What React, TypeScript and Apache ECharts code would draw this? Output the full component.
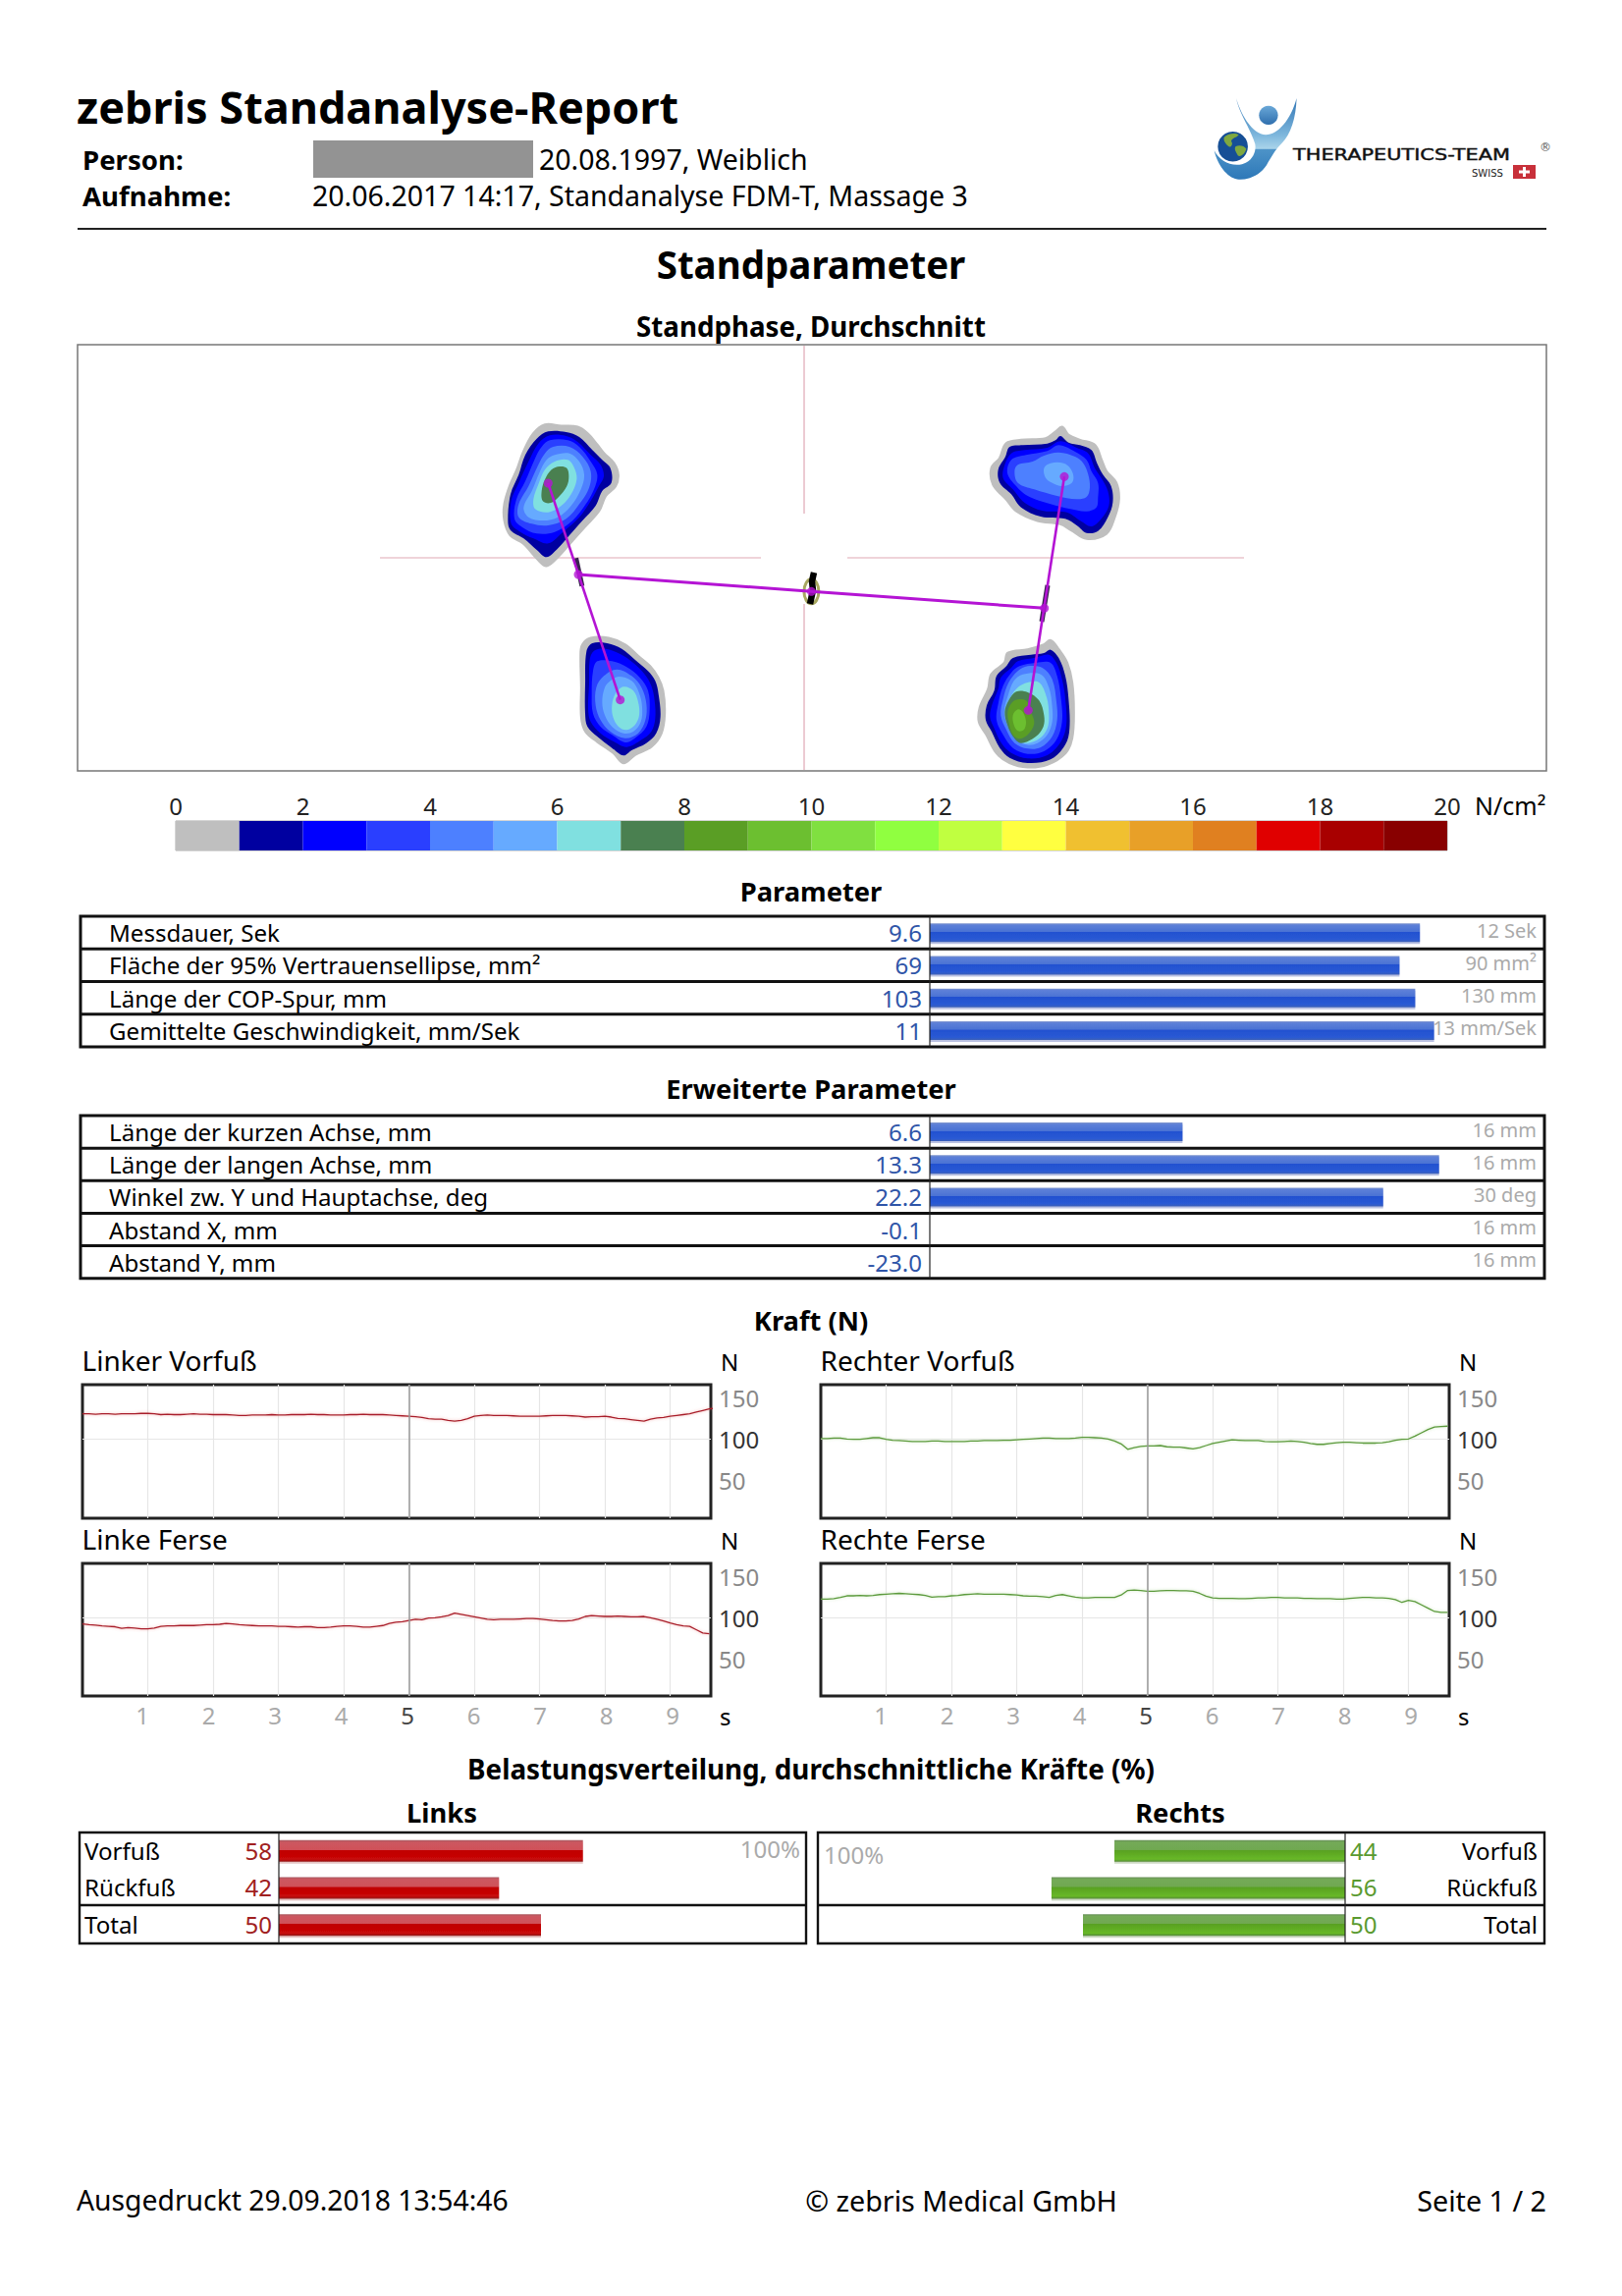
import React, { useEffect, useRef } from "react";
import * as echarts from "echarts";

const FONT = "Noto Sans";

// ---------- data ----------
const SCALE_COLORS = ["#bfbfbf","#0000a0","#0000ff","#2a3fff","#4d80ff","#66aaff","#80e0e0","#4a8050","#5a9e25","#6cbf30","#80e040","#90ff40","#c0ff40","#ffff40","#f0c030","#e8a028","#e08020","#e00000","#a80000","#880000"];

const PARAM_NAMES = ["Messdauer, Sek","Fläche der 95% Vertrauensellipse, mm²","Länge der COP-Spur, mm","Gemittelte Geschwindigkeit, mm/Sek"];
const PARAM_LABELS = ["9.6","69","103","11"];
const PARAM_VALUES = [9.6,69,103,10.7];
const PARAM_MAX = [12,90,130,13];
const PARAM_MAX_LABELS = ["12 Sek","90 mm²","130 mm","13 mm/Sek"];

const EXT_NAMES = ["Länge der kurzen Achse, mm","Länge der langen Achse, mm","Winkel zw. Y und Hauptachse, deg","Abstand X, mm","Abstand Y, mm"];
const EXT_LABELS = ["6.6","13.3","22.2","-0.1","-23.0"];
const EXT_VALUES = [6.6,13.3,22.2,-0.1,-23.0];
const EXT_MAX = [16,16,30,16,16];
const EXT_MAX_LABELS = ["16 mm","16 mm","30 deg","16 mm","16 mm"];

const LOAD_NAMES = ["Vorfuß","Rückfuß","Total"];
const LOAD_LEFT = [58,42,50];
const LOAD_RIGHT = [44,56,50];

const F_LV = [131,131,130.5,131,131,130.5,131,131,131,131.5,131.5,131,130,130.5,130,130,130.5,131,130.5,130.5,130,130,130,129.5,129,129,129.5,129.5,129.5,130,129.5,129.5,130,130,130,130.5,130,130,129.5,129.5,129.5,130,130,130.5,130,130,130,129.5,129,128.5,128,127.5,126.5,125,124.5,124.5,123,122,123,125,128,129,129.5,129,129,129,128.5,128,128,128,128,128.5,129,129,129,128.5,128,127,127.5,127.5,128,127,125.5,125,124,123,122,124.5,126,126.5,128,129,130,131,133,135,137,138];
const F_LF = [93,92,91.5,90.5,90,89.5,87.5,88.5,88,87,87,88,90,90.5,90.5,91,91,91,91.5,92,92,92.5,93.5,93,92,91.5,91,90.5,90.5,90.5,90,90,89.5,89,89.5,89.5,88.5,88.5,89,90,90.5,90.5,90,89,89,90,91,93.5,95,95.5,97,98.5,98,100,100.5,101.5,103,106,104.5,103,101.5,100,98.5,98,98.5,98.5,98.5,99,99.5,99.5,99,98,97,96.5,96.5,97,99,102,103,102.5,102,102,102.5,102,101.5,101.5,102,100.5,98.5,96.5,94,92,90.5,90,86,82,81];
const F_RV = [101,101,101.5,101.5,100.5,100,100,101,102,102,100,99,98.5,98,97.5,97.5,97.5,98,98,97.5,97.5,97.5,97.5,98,98,98.5,98.5,98.5,99,99,99.5,100,100.5,101,101.5,101.5,101,101,101,101.5,102.5,102.5,102,101.5,100.5,98,94.5,88,90,91.5,92,92,92.5,91,90.5,90.5,89.5,88.5,90,92.5,95,96.5,98,99.5,99,98.5,98.5,98.5,97.5,97,97,97.5,98,97.5,96.5,95,94,94,95,96,96.5,96.5,96,95.5,95.5,95.5,96,97,99,100,100.5,104,108,112,115,115.5,116];
const F_RF = [123,123,123.5,125,127,127,127.5,127,127.5,128.5,129,129.5,130,129.5,129,128.5,127.5,125.5,126,126,127,127.5,128.5,129,129.5,129,129,129,129,128.5,128,127,126.5,126.5,126,125,127.5,128.5,127,125.5,124.5,124.5,125,125,125,125,128,133.5,134,133.5,132.5,132.5,133,133.5,133.5,133,133,132.5,130,126.5,124.5,124,124,124,123.5,123.5,124,124.5,124.5,125,125,124.5,124.5,124.5,124,124,123.5,123.5,123.5,123,123,124,124.5,125,125,124.5,124.5,124,122.5,119,121.5,120,116,112,108,107,107];
const F_Y_LABELS = [50,100,150];
const F_X_LABELS = [1,2,3,4,5,6,7,8,9];

// Pressure contours of the four foot zones: scale colour index, then outline points.
const BLOB_TL: [number, number[][]][] = [
  [0,[[165,38],[215,42],[265,45],[295,65],[325,100],[345,125],[375,155],[388,190],[380,225],[350,255],[330,300],[290,345],[245,395],[205,440],[170,468],[145,450],[100,400],[60,375],[42,330],[42,280],[60,220],[80,175],[100,120],[130,65]]],
  [1,[[175,58],[230,60],[270,75],[310,115],[340,145],[365,170],[368,215],[340,240],[320,285],[280,330],[240,375],[205,415],[170,442],[140,420],[100,385],[60,360],[52,330],[60,250],[85,190],[105,130],[140,80]]],
  [2,[[180,70],[230,72],[265,90],[305,130],[335,160],[345,195],[330,225],[305,270],[270,320],[220,365],[175,400],[130,385],[90,365],[62,340],[62,270],[85,215],[115,150],[145,95]]],
  [3,[[180,85],[235,85],[270,105],[305,150],[325,190],[315,235],[290,280],[250,330],[195,365],[140,370],[95,350],[72,325],[78,265],[105,210],[135,140],[155,105]]],
  [4,[[190,105],[240,105],[280,135],[305,180],[300,230],[270,280],[230,325],[175,345],[125,340],[85,320],[85,280],[115,225],[145,160],[165,125]]],
  [5,[[195,130],[240,125],[270,150],[285,190],[275,235],[245,285],[205,320],[160,330],[115,320],[100,290],[125,240],[150,180],[170,145]]],
  [6,[[195,150],[235,145],[255,170],[262,205],[245,250],[215,285],[175,305],[135,295],[130,265],[145,220],[165,175]]],
  [7,[[210,165],[232,170],[238,195],[232,225],[205,260],[180,277],[158,270],[155,240],[165,205],[185,175]]],
];
const BLOB_TR: [number, number[][]][] = [
  [0,[[245,45],[265,70],[300,85],[345,100],[365,145],[380,180],[410,215],[418,265],[405,320],[380,370],[320,385],[275,360],[240,340],[170,330],[105,300],[75,265],[35,220],[30,170],[55,140],[75,95],[120,85],[195,80],[225,60]]],
  [1,[[240,72],[265,92],[300,100],[335,115],[352,155],[370,190],[395,225],[400,275],[385,320],[355,362],[320,368],[290,345],[255,325],[180,318],[120,290],[90,250],[55,215],[50,175],[72,135],[85,105],[125,100],[200,95],[225,85]]],
  [2,[[240,88],[290,108],[325,125],[345,170],[365,200],[385,240],[388,285],[365,325],[335,348],[300,330],[260,305],[185,300],[130,275],[95,235],[65,200],[70,160],[90,125],[130,115],[200,108]]],
  [3,[[235,100],[285,120],[320,145],[335,180],[355,215],[355,260],[350,290],[320,302],[270,295],[210,280],[140,255],[105,225],[78,185],[90,145],[135,130],[200,118]]],
  [4,[[235,122],[285,135],[310,155],[325,190],[330,230],[320,258],[290,265],[230,255],[160,235],[110,215],[100,180],[110,160],[155,150],[190,132]]],
  [5,[[210,155],[250,155],[270,170],[280,195],[275,215],[245,225],[215,215],[195,200],[190,170]]],
];
const BLOB_BL: [number, number[][]][] = [
  [0,[[65,30],[120,30],[170,50],[210,85],[245,115],[270,150],[285,190],[290,260],[280,320],[250,360],[200,385],[165,410],[135,380],[85,345],[50,315],[37,270],[37,180],[35,80],[40,50]]],
  [1,[[70,45],[115,45],[160,62],[200,95],[240,130],[262,160],[272,200],[278,270],[265,320],[235,350],[190,372],[165,388],[130,365],[85,330],[55,300],[48,260],[48,170],[52,70]]],
  [2,[[75,68],[110,62],[155,78],[195,105],[230,140],[250,175],[260,220],[262,275],[250,315],[220,340],[175,362],[135,345],[95,320],[65,285],[57,245],[60,170],[62,95]]],
  [3,[[85,100],[130,100],[175,118],[215,150],[240,190],[245,250],[235,300],[200,335],[170,348],[130,325],[95,300],[72,260],[68,200],[72,130]]],
  [4,[[145,125],[190,145],[220,180],[235,230],[232,280],[210,320],[170,335],[125,315],[95,280],[80,235],[82,180],[105,145]]],
  [5,[[150,147],[190,160],[212,195],[222,240],[218,285],[195,315],[165,320],[130,300],[108,265],[100,225],[108,180],[125,160]]],
  [6,[[165,178],[195,190],[210,225],[213,265],[200,295],[175,310],[150,300],[133,270],[130,235],[140,200]]],
];
const BLOB_BR: [number, number[][]][] = [
  [0,[[240,22],[265,50],[290,90],[305,150],[310,240],[305,320],[285,365],[230,400],[170,408],[115,395],[75,365],[45,310],[22,270],[25,225],[50,170],[60,125],[100,90],[110,60],[170,50],[220,35]]],
  [1,[[240,50],[265,75],[285,130],[295,200],[298,290],[285,340],[240,385],[170,396],[115,380],[85,350],[60,300],[42,265],[45,220],[68,175],[75,130],[105,100],[125,75],[180,65],[220,60]]],
  [2,[[235,65],[258,90],[275,140],[285,200],[288,280],[272,330],[230,372],[170,382],[120,365],[90,335],[68,290],[55,255],[62,215],[80,170],[88,135],[120,105],[140,85],[190,75]]],
  [3,[[195,90],[240,90],[260,130],[272,200],[275,270],[258,325],[220,360],[170,368],[125,350],[95,310],[75,265],[80,215],[95,160],[120,120],[145,100]]],
  [4,[[170,100],[215,105],[245,140],[258,210],[260,265],[245,315],[210,348],[170,352],[130,335],[105,295],[88,250],[95,200],[112,150],[140,115]]],
  [5,[[155,125],[210,125],[235,165],[245,225],[245,270],[230,310],[200,335],[165,340],[130,320],[108,280],[98,240],[110,190],[128,145]]],
  [6,[[170,150],[205,150],[228,195],[235,250],[230,290],[205,322],[165,335],[130,315],[108,275],[105,235],[118,195],[140,165]]],
  [7,[[135,178],[170,180],[205,205],[220,250],[218,285],[195,315],[150,335],[125,315],[108,280],[100,240],[112,205]]],
  [8,[[130,205],[165,205],[180,240],[190,275],[170,310],[145,322],[125,310],[112,270],[110,235]]],
  [9,[[140,232],[155,240],[165,270],[158,295],[140,298],[128,280],[125,250]]],
];
const BLOB_ORIGINS: [number, number][] = [[-319,148],[181,148],[-239,-72],[171,-77]];
const BLOBS = [BLOB_TL, BLOB_TR, BLOB_BL, BLOB_BR];

// COP geometry, in the stance panel's own units
const COP_LEFT = [[-260.7,76],[-187.3,-144.7]];
const COP_RIGHT = [[265,82.7],[228.3,-155.3]];
const COP_CROSS = [[-230,-17],[7.4,-34.3],[244.7,-51.3]];
const ELL_LEFT = [[-232.4,-0.3],[-226.2,-28.7]];
const ELL_RIGHT = [[248,-28],[242,-65]];
const ELL_CENTER = [[10,-15],[8,-24],[9,-33],[6,-47]];
const CROSS_LINES = [[[-432,0],[-44,0]],[[44,0],[448,0]],[[0,216],[0,45]],[[0,-47],[0,-216]]];

const registerLogo = () => {
  echarts.graphic.registerShape("ttSwoosh", echarts.graphic.extendPath("M87 30 C105 90 140 140 178 142 C215 142 255 95 272 30 C270 90 255 140 225 170 C205 190 195 210 180 235 C160 265 125 282 90 278 C60 272 30 235 20 190 C35 220 70 240 105 232 C135 225 150 195 145 170 C130 120 100 85 87 30 Z", {}) as any);
  echarts.graphic.registerShape("ttLand", echarts.graphic.extendPath("M50 150 C60 138 85 135 95 142 C88 152 75 150 72 162 C80 170 70 185 62 176 C55 168 48 162 50 150 Z M85 178 C95 172 112 175 118 185 C115 200 100 212 92 205 C88 195 80 188 85 178 Z", {}) as any);
};

const txt = (text: string, x: number, y: number, size: number, o: any = {}) => ({
  type: "text", x, y, z: 20, silent: true,
  style: { text, fontSize: size, fontFamily: FONT, fontWeight: o.bold ? 700 : 400, fill: o.color || "#000", align: o.align || "left", verticalAlign: "middle" },
});
const hLine = (x1: number, x2: number, y: number, w: number, c: string) => ({ type: "line", z: 15, silent: true, shape: { x1, y1: y, x2, y2: y }, style: { stroke: c, lineWidth: w } });
const vLine = (x: number, y1: number, y2: number, w: number, c: string) => ({ type: "line", z: 15, silent: true, shape: { x1: x, y1, x2: x, y2 }, style: { stroke: c, lineWidth: w } });
const frame = (x1: number, y1: number, x2: number, y2: number, w: number, c: string) => ({ type: "rect", z: 15, silent: true, shape: { x: x1, y: y1, width: x2 - x1, height: y2 - y1 }, style: { fill: "transparent", stroke: c, lineWidth: w } });

const barGradient = (stops: [number, string][]) => new echarts.graphic.LinearGradient(0, 0, 0, 1, stops.map(([offset, color]) => ({ offset, color })));
const BLUE = () => barGradient([[0,"#8096cc"],[0.1,"#5d80d8"],[0.45,"#4a72d4"],[0.46,"#2250d0"],[0.86,"#2a5ad4"],[1,"#3c5fb8"]]);
const RED = () => barGradient([[0,"#a85860"],[0.1,"#cc5860"],[0.45,"#d05058"],[0.46,"#c00000"],[0.88,"#c80808"],[1,"#901818"]]);
const GREEN = () => barGradient([[0,"#688f58"],[0.1,"#74aa58"],[0.45,"#70a850"],[0.46,"#58a020"],[0.88,"#68b828"],[1,"#558838"]]);

function buildOption() {
  const grid: any[] = [], xAxis: any[] = [], yAxis: any[] = [], series: any[] = [], g: any[] = [];
  const addGrid = (gr: any, xa: any, ya: any) => {
    grid.push({ containLabel: false, ...gr }); const i = grid.length - 1;
    xAxis.push({ gridIndex: i, ...xa }); yAxis.push({ gridIndex: i, ...ya }); return i;
  };
  const hidden = { show: false };

  // ---------- header ----------
  g.push(txt("zebris Standanalyse-Report", 78, 108, 45, { bold: true }));
  g.push(txt("Person:", 84, 162, 27.6, { bold: true }));
  g.push(txt("Aufnahme:", 84, 199, 27.6, { bold: true }));
  g.push({ type: "rect", z: 15, shape: { x: 319, y: 143, width: 224, height: 38 }, style: { fill: "#939393" } });
  g.push(txt("20.08.1997, Weiblich", 549, 162, 28.5));
  g.push(txt("20.06.2017 14:17, Standanalyse FDM-T, Massage 3", 318, 199, 28.5));
  g.push(hLine(79, 1575, 233, 2, "#222"));
  g.push(txt("Standparameter", 826, 268.5, 38.5, { bold: true, align: "center" }));
  g.push(txt("Standphase, Durchschnitt", 826, 332, 27.7, { bold: true, align: "center" }));

  // logo
  g.push({ type: "group", x: 1230, y: 90, scaleX: 1 / 3, scaleY: 1 / 3, z: 15, children: [
    { type: "ttSwoosh", style: { fill: new echarts.graphic.LinearGradient(0, 0, 0, 1, [{ offset: 0, color: "#2f74b4" }, { offset: 0.45, color: "#7db6dc" }, { offset: 0.62, color: "#a9d4ea" }, { offset: 0.63, color: "#4d93c8" }, { offset: 1, color: "#2d78b8" }]) } },
    { type: "circle", shape: { cx: 186, cy: 82, r: 29 }, style: { fill: new echarts.graphic.LinearGradient(0, 0, 0, 1, [{ offset: 0, color: "#6aa8d8" }, { offset: 1, color: "#2f6fae" }]) } },
    { type: "circle", shape: { cx: 77, cy: 178, r: 46 }, style: { fill: "#164f96" } },
    { type: "ttLand", style: { fill: "#7fa840" } },
  ] });
  g.push({ type: "text", z: 20, x: 1317, y: 158, scaleX: 1.39, style: { text: "THERAPEUTICS-TEAM", fontFamily: "DejaVu Sans", fontSize: 15, fontWeight: 400, fill: "#111", stroke: "#111", lineWidth: 0.4, verticalAlign: "middle" } });
  g.push({ type: "text", z: 20, x: 1568, y: 150, style: { text: "®", fontFamily: "DejaVu Sans", fontSize: 12, fill: "#555", verticalAlign: "middle" } });
  g.push({ type: "text", z: 20, x: 1499, y: 176, style: { text: "SWISS", fontFamily: "DejaVu Sans", fontSize: 10, fill: "#222", verticalAlign: "middle" } });
  g.push({ type: "rect", z: 15, shape: { x: 1541, y: 168, width: 23, height: 14 }, style: { fill: "#c8303a" } });
  g.push({ type: "rect", z: 16, shape: { x: 1547, y: 173.5, width: 11, height: 3 }, style: { fill: "#fff" } });
  g.push({ type: "rect", z: 16, shape: { x: 1551, y: 170, width: 3, height: 10 }, style: { fill: "#fff" } });

  // ---------- stance panel ----------
  const gStance = addGrid(
    { left: 79, top: 351, width: 1496, height: 434, show: true, borderColor: "#777", borderWidth: 1.5 },
    { type: "value", min: -740, max: 756, ...hidden },
    { type: "value", min: -217, max: 217, ...hidden }
  );
  const contours: { c: number; pts: number[][] }[] = [];
  BLOBS.forEach((blob, b) => blob.forEach(([c, pts]) => {
    const [ox, oy] = BLOB_ORIGINS[b];
    contours.push({ c, pts: pts.map(([x, y]) => [ox + x / 3, oy - y / 3]) });
  }));
  const stanceSeries = { xAxisIndex: gStance, yAxisIndex: gStance, silent: true };
  const poly = (data: number[][], color: string, width: number, z: number) => ({ ...stanceSeries, type: "line", data, showSymbol: false, symbol: "none", z, lineStyle: { color, width } });
  CROSS_LINES.forEach((l) => series.push(poly(l, "#dfa8b4", 1.2, 1)));
  series.push({
    ...stanceSeries, type: "custom", z: 2, clip: false, data: contours.map((_, i) => [i, 0]),
    renderItem: (p: any, api: any) => {
      const ct = contours[p.dataIndex];
      const color = SCALE_COLORS[ct.c];
      return { type: "polygon", shape: { points: ct.pts.map((q) => api.coord(q)), smooth: 0.35 }, style: { fill: color, stroke: ct.c === 0 ? color : "none", lineWidth: 3 } };
    },
  });
  series.push({ ...poly(ELL_LEFT, "#3a2450", 5, 3) });
  series.push({ ...poly(ELL_RIGHT, "#3a2450", 5, 3) });
  series.push({ ...stanceSeries, type: "custom", z: 3, clip: false, data: [[7.4, -34.3]],
    renderItem: (_: any, api: any) => {
      const c = api.coord([7.4, -34.3]);
      return { type: "ellipse", shape: { cx: c[0], cy: c[1], rx: 7.5, ry: 12.5 }, style: { fill: "#fff", stroke: "#a8a860", lineWidth: 3 } };
    },
  });
  series.push({ ...poly(ELL_CENTER, "#000", 6.5, 4) });
  series.push(poly(COP_LEFT, "#b414d4", 2.6, 5));
  series.push(poly(COP_RIGHT, "#b414d4", 2.6, 5));
  series.push(poly(COP_CROSS, "#b414d4", 3, 5));
  series.push({ ...stanceSeries, type: "scatter", z: 6, symbolSize: 9, itemStyle: { color: "#b414d4" },
    data: [COP_LEFT[0], COP_LEFT[1], COP_RIGHT[0], COP_RIGHT[1], COP_CROSS[0], COP_CROSS[1], COP_CROSS[2]] });

  // ---------- colour scale ----------
  const gScale = addGrid(
    { left: 179, top: 836, width: 1295, height: 30, show: true, borderColor: "#aaa", borderWidth: 1 },
    { type: "value", position: "top", min: 0, max: 20, interval: 2, splitLine: hidden, axisLine: hidden, axisTick: hidden,
      axisLabel: { fontFamily: FONT, fontSize: 24, color: "#222", margin: 4, showMinLabel: true, showMaxLabel: true } },
    { type: "value", min: 0, max: 1, ...hidden }
  );
  series.push({ type: "custom", xAxisIndex: gScale, yAxisIndex: gScale, silent: true, clip: false,
    data: SCALE_COLORS.map((_, i) => [i, 0]),
    renderItem: (p: any, api: any) => {
      const a = api.coord([p.dataIndex, 1]), b = api.coord([p.dataIndex + 1, 0]);
      return { type: "rect", shape: { x: a[0], y: a[1], width: b[0] - a[0], height: b[1] - a[1] }, style: { fill: SCALE_COLORS[p.dataIndex] } };
    },
  });
  g.push(txt("N/cm²", 1502, 820, 25));

  // ---------- parameter tables ----------
  const table = (title: string, titleY: number, top: number, rowH: number, names: string[], labels: string[], values: number[], max: number[], maxLabels: string[]) => {
    const n = names.length, bottom = top + rowH * n;
    g.push(txt(title, 826, titleY, 27.3, { bold: true, align: "center" }));
    g.push(frame(82, top, 1573, bottom, 3, "#111"));
    for (let i = 1; i < n; i++) g.push(hLine(82, 1573, top + rowH * i, 3, "#111"));
    g.push(vLine(947, top, bottom, 1.2, "#222"));
    names.forEach((name, i) => {
      const cy = top + rowH * (i + 0.5);
      g.push(txt(name, 111, cy, 24.1));
      g.push(txt(labels[i], 939, cy, 24.1, { align: "right", color: "#2f55a8" }));
      g.push(txt(maxLabels[i], 1565, cy - 2.5, 20, { align: "right", color: "#aaa" }));
    });
    const gi = addGrid(
      { left: 947, top, width: 624, height: rowH * n },
      { type: "value", min: 0, max: 1, ...hidden },
      { type: "category", inverse: true, data: names, ...hidden }
    );
    series.push({ type: "bar", xAxisIndex: gi, yAxisIndex: gi, silent: true, barWidth: 19, z: 3,
      data: values.map((v, i) => Math.max(0, v / max[i])),
      itemStyle: { color: BLUE(), shadowColor: "rgba(60,80,170,.35)", shadowOffsetY: 2, shadowBlur: 0 } });
  };
  table("Parameter", 907, 933, 33.25, PARAM_NAMES, PARAM_LABELS, PARAM_VALUES, PARAM_MAX, PARAM_MAX_LABELS);
  table("Erweiterte Parameter", 1108, 1136, 33.15, EXT_NAMES, EXT_LABELS, EXT_VALUES, EXT_MAX, EXT_MAX_LABELS);

  // ---------- force charts ----------
  g.push(txt("Kraft (N)", 826, 1344, 27.3, { bold: true, align: "center" }));
  const force = (title: string, left: number, top: number, h: number, values: number[], color: string, halo: string) => {
    g.push(txt(title, left - 0.5, top - 25, 28));
    g.push(txt("N", left + 650, top - 24, 24));
    const gi = addGrid(
      { left, top, width: 640, height: h, show: true, borderColor: "#222", borderWidth: 3 },
      { type: "value", min: 0, max: 9.624, axisLine: hidden, axisLabel: hidden,
        axisTick: { show: false, customValues: F_X_LABELS },
        splitLine: { show: true, lineStyle: { color: "#e6e6e6", width: 1.2 } } },
      { type: "value", position: "right", min: 100 - ((h - 55.7) / 0.84), max: 166.3, axisLine: hidden,
        axisTick: { show: false, customValues: [100] },
        axisLabel: { customValues: F_Y_LABELS, fontFamily: FONT, fontSize: 24, margin: 8, padding: [0, 0, 3, 0], color: (v: any) => (Number(v) === 100 ? "#333" : "#888") },
        splitLine: { show: true, lineStyle: { color: "#e6e6e6", width: 1.2 } } }
    );
    series.push({ type: "line", xAxisIndex: gi, yAxisIndex: gi, silent: true, showSymbol: false, symbol: "none", z: 4,
      data: values.map((v, i) => [i / 10, v]),
      lineStyle: { color, width: 1.3, shadowColor: halo, shadowBlur: 3 },
      markLine: { silent: true, symbol: "none", label: { show: false }, animation: false, lineStyle: { color: "#999", width: 1.5, type: "solid" }, data: [{ xAxis: 5 }] } });
  };
  force("Linker Vorfuß", 84, 1410, 136, F_LV, "#a81e2a", "rgba(230,100,100,.5)");
  force("Rechter Vorfuß", 836, 1410, 136, F_RV, "#5c9a3c", "rgba(140,200,110,.5)");
  force("Linke Ferse", 84, 1592, 135, F_LF, "#a81e2a", "rgba(230,100,100,.5)");
  force("Rechte Ferse", 836, 1592, 135, F_RF, "#5c9a3c", "rgba(140,200,110,.5)");
  const secs = (left: number) => {
    const gi = addGrid(
      { left, top: 1732, width: 540, height: 2 },
      { type: "value", min: 1, max: 9, interval: 1, axisLine: hidden, axisTick: hidden, splitLine: hidden,
        axisLabel: { fontFamily: FONT, fontSize: 24, margin: 0, color: (v: any) => (Number(v) === 5 ? "#444" : "#aaa"), verticalAlign: "top" } },
      { type: "value", min: 0, max: 1, ...hidden }
    );
    series.push({ type: "line", xAxisIndex: gi, yAxisIndex: gi, silent: true, showSymbol: false, data: [] });
  };
  secs(145); secs(897);
  g.push(txt("s", 733, 1747, 24));
  g.push(txt("s", 1485, 1747, 24));

  // ---------- load distribution ----------
  g.push(txt("Belastungsverteilung, durchschnittliche Kräfte (%)", 826, 1801, 27.8, { bold: true, align: "center" }));
  g.push(txt("Links", 450, 1845, 27.3, { bold: true, align: "center" }));
  g.push(txt("Rechts", 1202, 1845, 27.3, { bold: true, align: "center" }));
  const load = (x1: number, x2: number, div: number, gLeft: number, values: number[], isLeft: boolean) => {
    g.push(frame(x1, 1866, x2, 1979, 2.4, "#111"));
    g.push(hLine(x1, x2, 1940, 2.4, "#111"));
    g.push(vLine(div, 1866, 1979, 1.2, "#222"));
    values.forEach((v, i) => {
      const cy = 1884 + 37.6 * i;
      if (isLeft) {
        g.push(txt(LOAD_NAMES[i], 86, cy, 24.1));
        g.push(txt(String(v), 277, cy, 24.1, { align: "right", color: "#a02020" }));
      } else {
        g.push(txt(LOAD_NAMES[i], 1566, cy, 24.1, { align: "right" }));
        g.push(txt(String(v), 1375, cy, 24.1, { color: "#5a9a30" }));
      }
    });
    const gi = addGrid(
      { left: gLeft, top: 1866, width: 534, height: 113 },
      { type: "value", min: 0, max: 100, inverse: !isLeft, ...hidden },
      { type: "category", inverse: true, data: LOAD_NAMES, ...hidden }
    );
    series.push({ type: "bar", xAxisIndex: gi, yAxisIndex: gi, silent: true, barWidth: 22, z: 3, data: values,
      itemStyle: { color: isLeft ? RED() : GREEN(), shadowColor: isLeft ? "rgba(170,60,60,.3)" : "rgba(90,130,60,.3)", shadowOffsetY: 2, shadowBlur: 0 } });
  };
  load(81, 821, 284, 284, LOAD_LEFT, true);
  load(833, 1573, 1370, 836, LOAD_RIGHT, false);
  g.push(txt("100%", 815, 1882, 24, { align: "right", color: "#aaa" }));
  g.push(txt("100%", 839, 1888, 24, { color: "#aaa" }));

  // ---------- footer ----------
  g.push(txt("Ausgedruckt 29.09.2018 13:54:46", 78, 2240, 28.3));
  g.push(txt("© zebris Medical GmbH", 979, 2240, 28.7, { align: "center" }));
  g.push(txt("Seite 1 / 2", 1575, 2240, 28.7, { align: "right" }));

  return { animation: false, backgroundColor: "#fff", textStyle: { fontFamily: FONT }, grid, xAxis, yAxis, series, graphic: { elements: g } };
}

export default function App() {
  const ref = useRef<HTMLDivElement>(null);
  useEffect(() => {
    registerLogo();
    document.body.style.margin = "0";
    const chart = echarts.init(ref.current!, undefined, { renderer: "svg" });
    chart.setOption(buildOption() as any);
    return () => chart.dispose();
  }, []);
  return <div ref={ref} style={{ width: 1652, height: 2338 }} />;
}
